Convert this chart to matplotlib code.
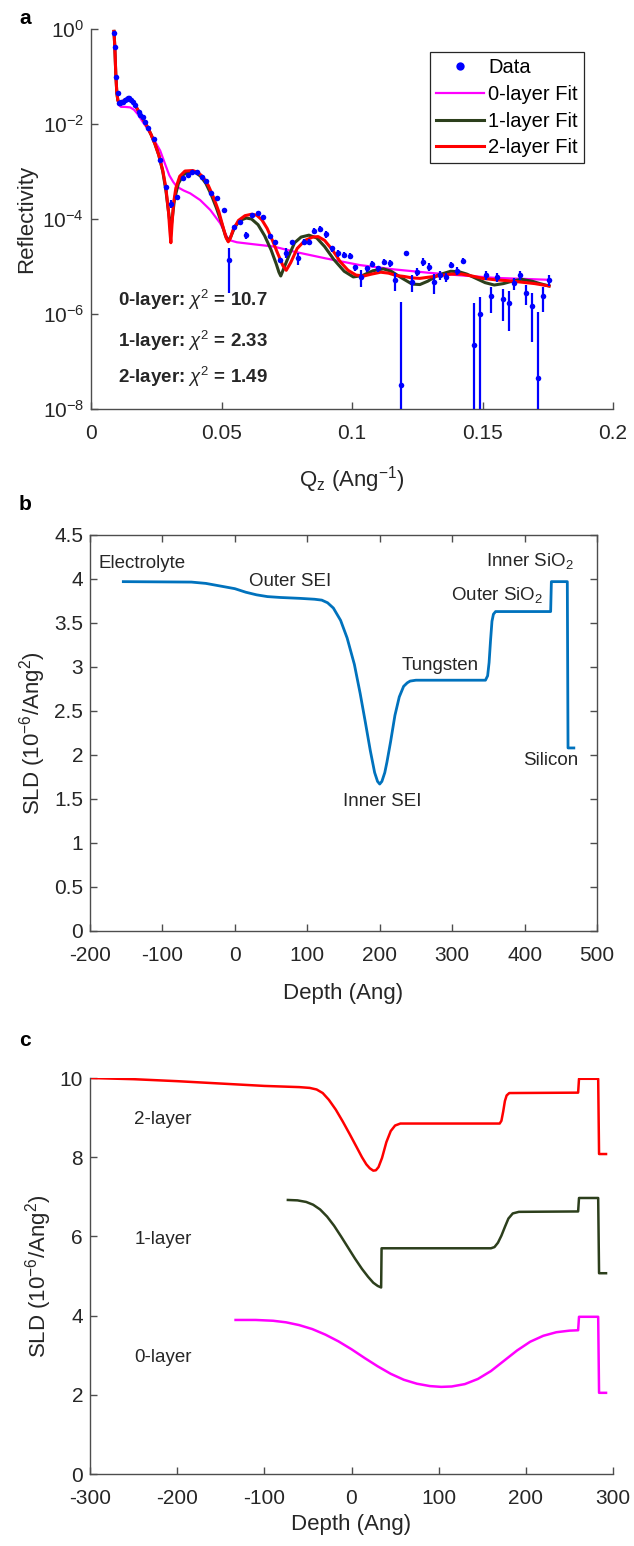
import numpy as np
import matplotlib
matplotlib.use("Agg")
import matplotlib.pyplot as plt
from matplotlib.ticker import FixedLocator, FuncFormatter, LogFormatterSciNotation
from matplotlib.lines import Line2D

plt.rcParams['font.family'] = ['Liberation Sans', 'DejaVu Sans']
plt.rcParams['mathtext.fontset'] = 'custom'
plt.rcParams['mathtext.rm'] = 'Liberation Sans'
plt.rcParams['mathtext.it'] = 'Liberation Sans:italic'
plt.rcParams['mathtext.bf'] = 'Liberation Sans:bold'
plt.rcParams['axes.unicode_minus'] = False

# ---------- panel a : reflectivity data (log10 R) ----------
q_data = [0.0088, 0.0092, 0.0096, 0.0105, 0.0109, 0.0112, 0.0116, 0.0122, 0.0130, 0.0137,
          0.0143, 0.0147, 0.0153, 0.0160, 0.0169, 0.0182, 0.0188, 0.0198, 0.0207, 0.0218,
          0.0242, 0.0265, 0.0287, 0.0307, 0.0329, 0.0352, 0.0370, 0.0386, 0.0406, 0.0425,
          0.0441, 0.0461, 0.0483, 0.0508, 0.0530, 0.0549, 0.0572, 0.0594, 0.0617, 0.0640,
          0.0659, 0.0684, 0.0704, 0.0726, 0.0749, 0.0770, 0.0792, 0.0815, 0.0834, 0.0856,
          0.0879, 0.0902, 0.0924, 0.0946, 0.0969, 0.0992, 0.1013, 0.1033, 0.1056, 0.1077,
          0.1099, 0.1122, 0.1144, 0.1165, 0.1186, 0.1205, 0.1231, 0.1250, 0.1272, 0.1295,
          0.1314, 0.1337, 0.1359, 0.1381, 0.1404, 0.1427, 0.1468, 0.1491, 0.1515, 0.1534,
          0.1557, 0.1579, 0.1602, 0.1621, 0.1644, 0.1666, 0.1689, 0.1711, 0.1733, 0.1755]
logR_data = [-0.08, -0.37, -1.02, -1.34, -1.55, -1.55, -1.53, -1.53, -1.50, -1.48,
             -1.46, -1.46, -1.50, -1.53, -1.60, -1.74, -1.81, -1.85, -1.95, -2.09,
             -2.32, -2.76, -3.32, -3.68, -3.53, -3.14, -3.07, -3.02, -3.02, -3.11,
             -3.20, -3.46, -3.56, -3.81, -4.86, -4.17, -4.06, -4.34, -3.92, -3.87,
             -3.95, -4.36, -4.48, -4.86, -4.71, -4.49, -4.83, -4.48, -4.48, -4.25,
             -4.20, -4.32, -4.62, -4.72, -4.76, -4.78, -5.02, -5.22, -5.04, -4.95,
             -5.04, -4.90, -4.93, -5.28, -7.50, -4.72, -5.32, -5.11, -4.90, -5.00,
             -5.32, -5.18, -5.22, -4.97, -5.09, -4.88, -6.65, -5.99, -5.18, -5.62,
             -5.22, -5.69, -5.76, -5.35, -5.18, -5.55, -5.83, -7.34, -5.62, -5.28]
# error bar half length as a fraction of R
err_frac = [0.03, 0.03, 0.03, 0.03, 0.03, 0.03, 0.03, 0.03, 0.03, 0.03,
            0.03, 0.03, 0.03, 0.03, 0.03, 0.03, 0.03, 0.03, 0.03, 0.03,
            0.03, 0.03, 0.03, 0.20, 0.05, 0.05, 0.05, 0.05, 0.05, 0.05,
            0.05, 0.05, 0.05, 0.05, 0.80, 0.10, 0.10, 0.17, 0.10, 0.10,
            0.10, 0.10, 0.10, 0.10, 0.23, 0.12, 0.27, 0.15, 0.15, 0.15,
            0.15, 0.15, 0.15, 0.15, 0.15, 0.15, 0.15, 0.40, 0.15, 0.15,
            0.15, 0.15, 0.15, 0.42, 56.0, 0.10, 0.40, 0.20, 0.20, 0.20,
            0.45, 0.20, 0.20, 0.15, 0.20, 0.12, 6.7, 1.25, 0.20, 0.57,
            0.20, 0.65, 0.75, 0.30, 0.20, 0.46, 0.83, 23.5, 0.55, 0.27]

q_fit0 = [0.0088, 0.0091, 0.0095, 0.0099, 0.0103, 0.0107, 0.0115, 0.0130, 0.0150, 0.0165,
          0.0180, 0.0195, 0.0214, 0.0240, 0.0265, 0.0285, 0.0300, 0.0315, 0.0329, 0.0355,
          0.0380, 0.0418, 0.0457, 0.0495, 0.0527, 0.0559, 0.0620, 0.0700, 0.0780, 0.0900,
          0.1030, 0.1160, 0.1290, 0.1400, 0.1550, 0.1755]
logR_fit0 = [-0.05, -0.35, -0.95, -1.35, -1.52, -1.60, -1.64, -1.64, -1.65, -1.70,
             -1.80, -1.93, -2.08, -2.32, -2.56, -2.86, -3.08, -3.22, -3.32, -3.40,
             -3.46, -3.60, -3.81, -4.09, -4.44, -4.49, -4.53, -4.58, -4.69, -4.83,
             -4.97, -5.06, -5.13, -5.18, -5.24, -5.28]

q_fit1 = [0.0088, 0.0091, 0.0095, 0.0099, 0.0103, 0.0107, 0.0115, 0.0125, 0.0140, 0.0150,
          0.0160, 0.0170, 0.0185, 0.0200, 0.0215, 0.0230, 0.0245, 0.0260, 0.0275, 0.0287,
          0.0297, 0.0303, 0.0307, 0.0312, 0.0320, 0.0335, 0.0355, 0.0380, 0.0400, 0.0420,
          0.0440, 0.0460, 0.0480, 0.0500, 0.0515, 0.0525, 0.0535, 0.0550, 0.0570, 0.0595,
          0.0615, 0.0640, 0.0665, 0.0690, 0.0710, 0.0720, 0.0727, 0.0740, 0.0760, 0.0780,
          0.0805, 0.0835, 0.0865, 0.0895, 0.0930, 0.0970, 0.1005, 0.1040, 0.1080, 0.1120,
          0.1150, 0.1190, 0.1230, 0.1260, 0.1290, 0.1330, 0.1378, 0.1410, 0.1440, 0.1475,
          0.1510, 0.1545, 0.1580, 0.1620, 0.1650, 0.1690, 0.1720, 0.1755]
logR_fit1 = [-0.05, -0.35, -0.95, -1.35, -1.50, -1.55, -1.55, -1.52, -1.48, -1.48,
             -1.53, -1.61, -1.76, -1.90, -2.05, -2.22, -2.42, -2.66, -3.00, -3.40,
             -3.85, -4.10, -4.16, -3.95, -3.58, -3.25, -3.06, -3.00, -3.02, -3.10,
             -3.25, -3.48, -3.76, -4.08, -4.35, -4.46, -4.38, -4.18, -4.03, -3.98,
             -4.00, -4.12, -4.35, -4.65, -4.95, -5.12, -5.20, -5.02, -4.75, -4.50,
             -4.38, -4.34, -4.40, -4.58, -4.85, -5.10, -5.22, -5.19, -5.09, -5.05,
             -5.10, -5.24, -5.37, -5.38, -5.31, -5.18, -5.10, -5.11, -5.16, -5.25,
             -5.34, -5.39, -5.36, -5.30, -5.27, -5.31, -5.36, -5.41]

q_fit2 = [0.0088, 0.0091, 0.0095, 0.0099, 0.0103, 0.0107, 0.0115, 0.0125, 0.0140, 0.0150,
          0.0160, 0.0170, 0.0185, 0.0200, 0.0215, 0.0230, 0.0245, 0.0260, 0.0275, 0.0287,
          0.0297, 0.0302, 0.0306, 0.0310, 0.0316, 0.0325, 0.0340, 0.0360, 0.0390, 0.0410,
          0.0430, 0.0450, 0.0470, 0.0490, 0.0505, 0.0518, 0.0526, 0.0533, 0.0545, 0.0565,
          0.0590, 0.0615, 0.0635, 0.0655, 0.0675, 0.0695, 0.0715, 0.0735, 0.0748, 0.0765,
          0.0790, 0.0820, 0.0850, 0.0870, 0.0895, 0.0925, 0.0955, 0.0985, 0.1015, 0.1045,
          0.1075, 0.1110, 0.1140, 0.1170, 0.1200, 0.1230, 0.1260, 0.1300, 0.1340, 0.1380,
          0.1420, 0.1460, 0.1500, 0.1550, 0.1600, 0.1650, 0.1700, 0.1755]
logR_fit2 = [-0.05, -0.35, -0.95, -1.35, -1.50, -1.55, -1.54, -1.51, -1.47, -1.48,
             -1.53, -1.61, -1.76, -1.90, -2.05, -2.22, -2.42, -2.66, -2.98, -3.35,
             -3.85, -4.25, -4.50, -4.15, -3.68, -3.35, -3.10, -2.99, -2.98, -3.02,
             -3.12, -3.30, -3.55, -3.85, -4.15, -4.40, -4.48, -4.42, -4.22, -4.03,
             -3.93, -3.90, -3.92, -4.02, -4.20, -4.45, -4.72, -4.98, -5.08, -4.92,
             -4.62, -4.45, -4.38, -4.37, -4.45, -4.65, -4.90, -5.08, -5.18, -5.20,
             -5.16, -5.12, -5.14, -5.19, -5.21, -5.24, -5.25, -5.22, -5.19, -5.16,
             -5.16, -5.20, -5.25, -5.28, -5.30, -5.33, -5.36, -5.41]

chi_labels = ['0-layer', '1-layer', '2-layer']
chi_values = ['10.7', '2.33', '1.49']

# ---------- panel b : SLD profile of the 2-layer model ----------
depth_b = [-154, -60, -40, -20, 0, 15, 30, 45, 63, 90, 110, 120, 128, 136, 146, 155, 165,
           173, 180, 187, 193, 197, 200, 203, 207, 210, 215, 221, 227, 233, 238, 242, 250,
           346, 349, 351, 353, 355, 357, 360, 436, 437, 459, 460, 468]
sld_b = [3.97, 3.965, 3.95, 3.92, 3.89, 3.85, 3.82, 3.80, 3.79, 3.78, 3.77, 3.76, 3.73,
         3.67, 3.53, 3.33, 3.03, 2.70, 2.38, 2.05, 1.80, 1.70, 1.67, 1.70, 1.80, 1.92,
         2.15, 2.45, 2.66, 2.78, 2.82, 2.84, 2.85, 2.85, 2.90, 3.05, 3.30, 3.52, 3.60,
         3.63, 3.63, 3.97, 3.97, 2.08, 2.08]
layer_names = ['Electrolyte', 'Outer SEI', 'Inner SEI', 'Tungsten', 'Outer SiO$_2$',
               'Inner SiO$_2$', 'Silicon']

# ---------- panel c : offset SLD profiles ----------
depth_c2 = [-300, -250, -200, -150, -100, -60, -48, -40, -33, -26, -18, -10, -2, 6, 12,
            17, 21, 25, 28, 31, 35, 40, 45, 50, 56, 170, 172, 174, 176, 178, 181, 260,
            261, 283, 284, 292]
sld_c2 = [10.0, 9.97, 9.92, 9.86, 9.80, 9.77, 9.75, 9.71, 9.62, 9.45, 9.20, 8.90, 8.58,
          8.25, 8.00, 7.82, 7.72, 7.66, 7.67, 7.75, 7.98, 8.38, 8.66, 8.80, 8.85, 8.85,
          8.92, 9.15, 9.42, 9.56, 9.62, 9.63, 9.98, 9.98, 8.08, 8.08]
depth_c1 = [-73, -62, -52, -44, -36, -28, -20, -12, -4, 4, 12, 19, 25, 30, 34, 34.5, 160,
            164, 168, 172, 176, 180, 185, 192, 260, 261, 283, 284, 292]
sld_c1 = [6.92, 6.91, 6.87, 6.80, 6.68, 6.50, 6.27, 6.00, 5.72, 5.44, 5.18, 4.98, 4.83,
          4.75, 4.71, 5.70, 5.70, 5.73, 5.84, 6.02, 6.24, 6.45, 6.58, 6.62, 6.63, 6.97,
          6.97, 5.07, 5.07]
depth_c0 = [-133, -110, -90, -75, -60, -45, -30, -15, 0, 15, 30, 45, 60, 75, 90, 103, 115,
            130, 145, 160, 175, 190, 205, 220, 235, 250, 260, 261, 283, 284, 292]
sld_c0 = [3.89, 3.89, 3.87, 3.83, 3.76, 3.66, 3.52, 3.35, 3.15, 2.93, 2.72, 2.53, 2.38,
          2.28, 2.22, 2.20, 2.21, 2.27, 2.40, 2.60, 2.86, 3.12, 3.34, 3.49, 3.58, 3.62,
          3.63, 3.97, 3.97, 2.05, 2.05]
profile_names = ['2-layer', '1-layer', '0-layer']
profile_label_y = [8.95, 5.93, 2.94]

# ---------- styling ----------
C_DATA = '#0000ff'
C_FIT0 = '#ff00ff'
C_FIT1 = '#2c3f1c'
C_FIT2 = '#ff0000'
C_SLD = '#0072bd'
AX_COL = '#4d4d4d'
TXT_COL = '#262626'
TICK_FS = 15
LABEL_FS = 16
W, H = 634.0, 1546.0


def px_axes(left, top, right, bottom):
    # axes rectangle given in pixels from the top-left corner
    return [left / W, 1 - bottom / H, (right - left) / W, (bottom - top) / H]


def style_axes(ax, box):
    for side in ['left', 'bottom', 'top', 'right']:
        ax.spines[side].set_color(AX_COL)
        ax.spines[side].set_linewidth(1.0)
    if not box:
        ax.spines['top'].set_visible(False)
        ax.spines['right'].set_visible(False)
    ax.tick_params(direction='in', length=5, width=1.0, color=AX_COL,
                   labelsize=TICK_FS, labelcolor=TXT_COL, top=box, right=box, pad=5)
    ax.tick_params(axis='x', pad=11)
    ax.tick_params(which='minor', length=0)


fig = plt.figure(figsize=(6.34, 15.46), dpi=100)

# ---- panel a ----
ax_a = fig.add_axes(px_axes(91, 29, 613, 409))
q_arr = np.array(q_data)
R = 10.0 ** np.array(logR_data)
sig = np.array(err_frac) * R
lo = np.minimum(sig, R - 1e-14)
ax_a.plot(q_fit0, 10.0 ** np.array(logR_fit0), color=C_FIT0, lw=1.6, zorder=2)
ax_a.plot(q_fit1, 10.0 ** np.array(logR_fit1), color=C_FIT1, lw=2.2, zorder=3)
ax_a.plot(q_fit2, 10.0 ** np.array(logR_fit2), color=C_FIT2, lw=2.2, zorder=4)
ax_a.errorbar(q_arr, R, yerr=[lo, sig], fmt='o', color=C_DATA, ms=4, mew=0,
              elinewidth=1.6, capsize=0, zorder=5)
ax_a.set_yscale('log')
ax_a.set_xlim(0, 0.2)
ax_a.set_ylim(1e-8, 1.0)
ax_a.xaxis.set_major_locator(FixedLocator([0, 0.05, 0.1, 0.15, 0.2]))
ax_a.xaxis.set_major_formatter(FuncFormatter(lambda v, p: '%g' % v))
ax_a.yaxis.set_major_locator(FixedLocator([1e-8, 1e-6, 1e-4, 1e-2, 1e0]))
ax_a.yaxis.set_major_formatter(LogFormatterSciNotation())
style_axes(ax_a, box=False)
ax_a.set_ylabel('Reflectivity', fontsize=LABEL_FS, color=TXT_COL)
ax_a.set_xlabel('Q$_\\mathregular{z}$ (Ang$^{-1}$)', fontsize=LABEL_FS, color=TXT_COL,
                labelpad=15)

chi_y = [10 ** -5.70, 10 ** -6.57, 10 ** -7.33]
for name, val, yy in zip(chi_labels, chi_values, chi_y):
    ax_a.text(0.0102, yy, name + ': $\\chi^2$ = ' + val, fontsize=13.5,
              fontweight='bold', color=TXT_COL, va='center', ha='left')

handles = [Line2D([], [], marker='o', ls='none', color=C_DATA, ms=6, mew=0),
           Line2D([], [], color=C_FIT0, lw=1.6),
           Line2D([], [], color=C_FIT1, lw=2.2),
           Line2D([], [], color=C_FIT2, lw=2.2)]
leg = ax_a.legend(handles, ['Data', '0-layer Fit', '1-layer Fit', '2-layer Fit'],
                  loc='upper right', bbox_to_anchor=(0.964, 0.965), fontsize=14.5,
                  frameon=True, fancybox=False, framealpha=1, edgecolor=TXT_COL,
                  handlelength=2.4, labelspacing=0.38, borderpad=0.3, handletextpad=0.2)
leg.get_frame().set_linewidth(0.9)

# ---- panel b ----
ax_b = fig.add_axes(px_axes(90, 535, 597, 931))
ax_b.plot(depth_b, sld_b, color=C_SLD, lw=2.0)
ax_b.set_xlim(-200, 500)
ax_b.set_ylim(0, 4.5)
ax_b.xaxis.set_major_locator(FixedLocator(list(range(-200, 501, 100))))
ax_b.yaxis.set_major_locator(FixedLocator([0, 0.5, 1, 1.5, 2, 2.5, 3, 3.5, 4, 4.5]))
ax_b.yaxis.set_major_formatter(FuncFormatter(lambda v, p: '%g' % v))
style_axes(ax_b, box=True)
ax_b.set_xlabel('Depth (Ang)', fontsize=LABEL_FS, color=TXT_COL, labelpad=13)
ax_b.set_ylabel('SLD (10$^{-6}$/Ang$^2$)', fontsize=LABEL_FS, color=TXT_COL)
lab_pos = [(-188, 4.18, 'left'), (76, 3.97, 'center'), (203, 1.47, 'center'),
           (284, 3.02, 'center'), (362, 3.82, 'center'), (408, 4.21, 'center'),
           (436, 1.94, 'center')]
for name, (xx, yy, ha) in zip(layer_names, lab_pos):
    ax_b.text(xx, yy, name, fontsize=13.5, color=TXT_COL, ha=ha, va='center')

# ---- panel c ----
ax_c = fig.add_axes(px_axes(90, 1078, 613, 1474))
ax_c.plot(depth_c2, sld_c2, color=C_FIT2, lw=1.8)
ax_c.plot(depth_c1, sld_c1, color=C_FIT1, lw=1.8)
ax_c.plot(depth_c0, sld_c0, color=C_FIT0, lw=1.8)
ax_c.set_xlim(-300, 300)
ax_c.set_ylim(0, 10)
ax_c.xaxis.set_major_locator(FixedLocator(list(range(-300, 301, 100))))
ax_c.yaxis.set_major_locator(FixedLocator([0, 2, 4, 6, 8, 10]))
style_axes(ax_c, box=False)
ax_c.set_xlabel('Depth (Ang)', fontsize=LABEL_FS, color=TXT_COL, labelpad=4)
ax_c.set_ylabel('SLD (10$^{-6}$/Ang$^2$)', fontsize=LABEL_FS, color=TXT_COL)
for name, yy in zip(profile_names, profile_label_y):
    ax_c.text(-249, yy, name, fontsize=13.5, color=TXT_COL, ha='left', va='center')

# panel letters
for letter, xpix, ypix in zip(['a', 'b', 'c'], [25, 25, 25], [19, 505, 1040]):
    fig.text(xpix / W, 1 - ypix / H, letter, fontsize=15, fontweight='bold',
             color='black', ha='center', va='center')

fig.savefig('out.png', dpi=100)
